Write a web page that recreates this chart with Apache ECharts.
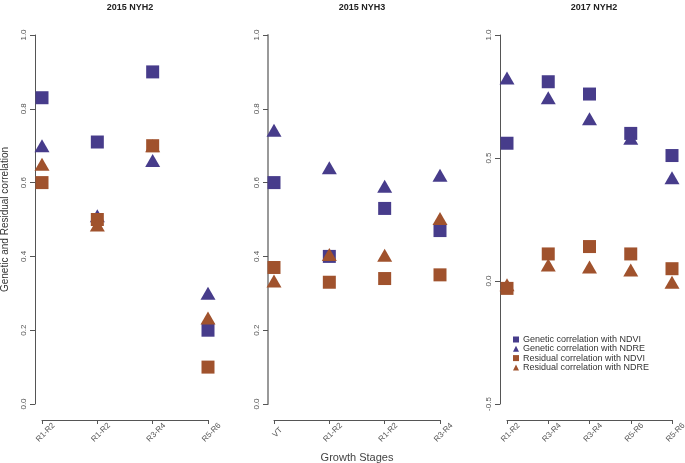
<!DOCTYPE html>
<html>
<head>
<meta charset="utf-8">
<script src="https://cdn.jsdelivr.net/npm/echarts@6/dist/echarts.min.js"></script>
<style>html,body{margin:0;padding:0;background:#fff}#c{width:685px;height:463px}</style>
</head>
<body>
<div id="c"></div>
<script>
// Panel titles
var titles = ['2015 NYH2', '2015 NYH3', '2017 NYH2'];
// Categories per panel
var cats1 = ['R1-R2', 'R1-R2', 'R3-R4', 'R5-R6'];
var cats2 = ['VT', 'R1-R2', 'R1-R2', 'R3-R4'];
var cats3 = ['R1-R2', 'R3-R4', 'R3-R4', 'R5-R6', 'R5-R6'];
// Panel 1: 2015 NYH2
var p1GenNDVI = [0.83, 0.71, 0.90, 0.20];
var p1GenNDRE = [0.70, 0.51, 0.66, 0.30];
var p1ResNDVI = [0.60, 0.50, 0.70, 0.10];
var p1ResNDRE = [0.65, 0.485, 0.70, 0.233];
// Panel 2: 2015 NYH3
var p2GenNDVI = [0.60, 0.40, 0.53, 0.47];
var p2GenNDRE = [0.742, 0.64, 0.59, 0.62];
var p2ResNDVI = [0.37, 0.33, 0.34, 0.35];
var p2ResNDRE = [0.333, 0.405, 0.403, 0.503];
// Panel 3: 2017 NYH2
var p3GenNDVI = [0.56, 0.81, 0.76, 0.60, 0.51];
var p3GenNDRE = [0.825, 0.745, 0.66, 0.58, 0.42];
var p3ResNDVI = [-0.03, 0.11, 0.14, 0.11, 0.05];
var p3ResNDRE = [-0.015, 0.065, 0.057, 0.045, -0.005];
// Legend names
var seriesNames = ['Genetic correlation with NDVI', 'Genetic correlation with NDRE', 'Residual correlation with NDVI', 'Residual correlation with NDRE'];

var BLUE = '#473C8B', ORANGE = '#A0522D';
var styles = [
  {symbol: 'rect', color: BLUE, size: 13},
  {symbol: 'triangle', color: BLUE, size: [15, 13]},
  {symbol: 'rect', color: ORANGE, size: 13},
  {symbol: 'triangle', color: ORANGE, size: [15, 13]}
];
var panelData = [
  [p1GenNDVI, p1GenNDRE, p1ResNDVI, p1ResNDRE],
  [p2GenNDVI, p2GenNDRE, p2ResNDVI, p2ResNDRE],
  [p3GenNDVI, p3GenNDRE, p3ResNDVI, p3ResNDRE]
];
var panelCats = [cats1, cats2, cats3];
var gridLefts = [42, 274, 507];
var gridWidths = [166, 166, 165];
var yOffsets = [7, 6, 7];
var axisColors = ['#555', '#999', '#555'];
var titleCenters = [125, 357, 589];

var grids = [], xAxes = [], yAxes = [], series = [], titleArr = [];
for (var p = 0; p < 3; p++) {
  grids.push({left: gridLefts[p], width: gridWidths[p], top: 35, height: 369, containLabel: false, outerBoundsMode: 'none'});
  titleArr.push({text: titles[p], left: titleCenters[p], top: -2, textAlign: 'center',
    textStyle: {fontSize: 9, fontWeight: 'bold', color: '#222', fontFamily: 'Liberation Sans'}});
  xAxes.push({
    type: 'category', gridIndex: p, data: panelCats[p], boundaryGap: false, offset: 16,
    axisLine: {show: true, onZero: false, lineStyle: {color: '#555', width: 1}},
    axisTick: {show: true, alignWithLabel: true, length: 4, lineStyle: {color: '#555'}},
    axisLabel: {rotate: 45, fontSize: 8, color: '#555', margin: 16, interval: 0, align: 'center', verticalAlign: 'middle',
      padding: [0, 0, 0, 10], fontFamily: 'Liberation Sans'},
    splitLine: {show: false},
    name: p === 1 ? 'Growth Stages' : '', nameLocation: 'middle', nameGap: 32,
    nameTextStyle: {fontSize: 11, color: '#444', fontFamily: 'Liberation Sans'}
  });
  var isP3 = p === 2;
  yAxes.push({
    type: 'value', gridIndex: p, min: isP3 ? -0.5 : 0, max: 1, interval: isP3 ? 0.5 : 0.2,
    offset: yOffsets[p],
    axisLine: {show: true, onZero: false, lineStyle: {color: axisColors[p], width: p === 1 ? 2 : 1}},
    axisTick: {show: true, length: 5, lineStyle: {color: '#555'}},
    axisLabel: {rotate: 90, fontSize: 8, color: '#555', margin: 7, fontFamily: 'Liberation Sans',
      formatter: function (v) { return v.toFixed(1); }},
    splitLine: {show: false},
    name: p === 0 ? 'Genetic and Residual correlation' : '', nameLocation: 'middle', nameGap: 25,
    nameTextStyle: {fontSize: 10, color: '#333', fontFamily: 'Liberation Sans'}
  });
  for (var s = 0; s < 4; s++) {
    series.push({
      type: 'scatter', name: seriesNames[s], xAxisIndex: p, yAxisIndex: p,
      symbol: styles[s].symbol, symbolSize: styles[s].size,
      itemStyle: {color: styles[s].color, opacity: 1},
      data: panelData[p][s], z: 2 + s
    });
  }
}

var chart = echarts.init(document.getElementById('c'), null, {renderer: 'canvas'});
chart.setOption({
  animation: false,
  backgroundColor: '#fff',
  title: titleArr,
  grid: grids,
  xAxis: xAxes,
  yAxis: yAxes,
  legend: {
    orient: 'vertical', left: 508, top: 330, itemWidth: 6, itemHeight: 6, itemGap: 0.3,
    data: seriesNames.map(function (n, i) { return {name: n, icon: i % 2 === 0 ? 'rect' : 'triangle'}; }),
    textStyle: {fontSize: 9, color: '#333', fontFamily: 'Liberation Sans', padding: [0, 0, 0, -1]},
    selectedMode: false
  },
  series: series
});
</script>
</body>
</html>
